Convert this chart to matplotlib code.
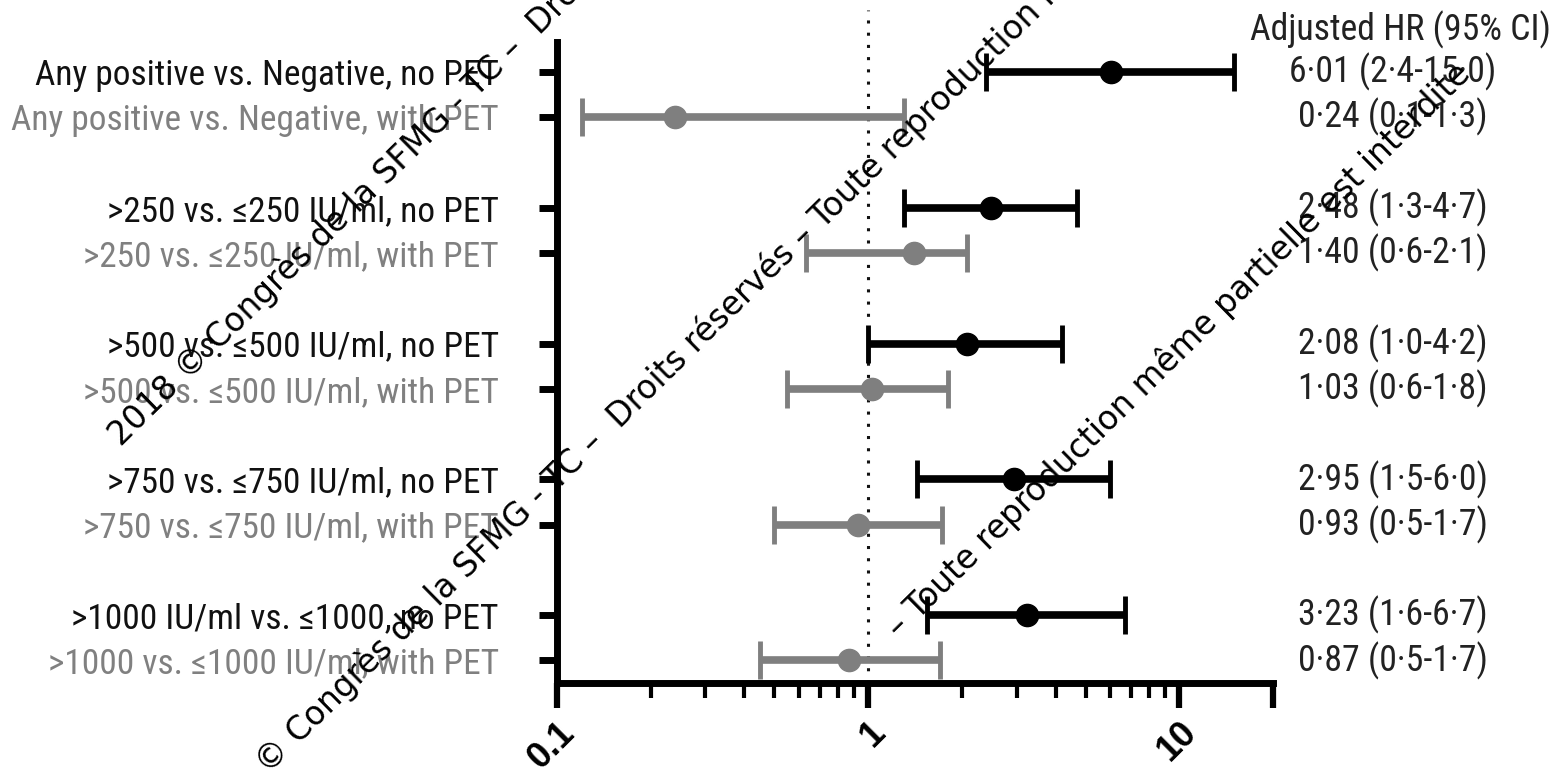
import numpy as np
import matplotlib
matplotlib.use('Agg')
import matplotlib.pyplot as plt
import matplotlib.transforms as mtransforms
from matplotlib import font_manager
from matplotlib.ticker import FixedLocator, NullFormatter

labels = ['Any positive vs. Negative, no PET',
          'Any positive vs. Negative, with PET',
          '>250 vs. \u2264250 IU/ml, no PET',
          '>250 vs. \u2264250 IU/ml, with PET',
          '>500 vs. \u2264500 IU/ml, no PET',
          '>500 vs. \u2264500 IU/ml, with PET',
          '>750 vs. \u2264750 IU/ml, no PET',
          '>750 vs. \u2264750 IU/ml, with PET',
          '>1000 IU/ml vs. \u22641000, no PET',
          '>1000 vs. \u22641000 IU/ml, with PET']
hr = [6.01, 0.24, 2.48, 1.40, 2.08, 1.03, 2.95, 0.93, 3.23, 0.87]
ci_lo = [2.4, 0.12, 1.3, 0.63, 1.0, 0.55, 1.44, 0.50, 1.55, 0.45]
ci_hi = [15.0, 1.3, 4.7, 2.08, 4.2, 1.8, 6.0, 1.73, 6.7, 1.7]
hr_text = ['6\u00b701 (2\u00b74-15\u00b70)', '0\u00b724 (0\u00b71-1\u00b73)',
           '2\u00b748 (1\u00b73-4\u00b77)', '1\u00b740 (0\u00b76-2\u00b71)',
           '2\u00b708 (1\u00b70-4\u00b72)', '1\u00b703 (0\u00b76-1\u00b78)',
           '2\u00b795 (1\u00b75-6\u00b70)', '0\u00b793 (0\u00b75-1\u00b77)',
           '3\u00b723 (1\u00b76-6\u00b77)', '0\u00b787 (0\u00b75-1\u00b77)']
header = 'Adjusted HR (95% CI)'
xticks = [0.1, 1, 10, 20]
xticklabels = ['0.1', '1', '10', '']
xminor = [0.2, 0.3, 0.4, 0.5, 0.6, 0.7, 0.8, 0.9, 2, 3, 4, 5, 6, 7, 8, 9]

wm_a = '2018 \u00a9 Congr\u00e8s de la SFMG - TC \u2013  Droits r\u00e9serv\u00e9s \u2013 Toute reproduction m\u00eame partielle est interdite'
wm_b = '\u00a9 Congr\u00e8s de la SFMG - TC \u2013  Droits r\u00e9serv\u00e9s \u2013 Toute reproduction m\u00eame partielle est interdite'
wm_c = '\u2013 Toute reproduction m\u00eame partielle est interdite'

# the original uses a narrow Arial-like face; take one if present
names = {f.name for f in font_manager.fontManager.ttflist}
narrow_family, narrow_stretch = 'Liberation Sans', 'normal'
for fam in ['Liberation Sans Narrow', 'Arial Narrow', 'Roboto Condensed',
            'Open Sans Condensed', 'Noto Sans Condensed']:
    if fam in names:
        narrow_family = fam
        break
else:
    for f in font_manager.fontManager.ttflist:
        if f.name in ('Roboto', 'Noto Sans', 'Open Sans') and f.stretch in ('condensed', 'semi-condensed'):
            narrow_family, narrow_stretch = f.name, f.stretch
            break
label_family = [narrow_family, 'Liberation Sans', 'DejaVu Sans']

black = '#000000'
grey = '#7f7f7f'

fig = plt.figure(figsize=(15.59, 7.79), dpi=100)
renderer = fig.canvas.get_renderer()


def fit_size(text, target_px, base=20):
    t = fig.text(0, 0, text, fontsize=base, family=label_family, fontstretch=narrow_stretch)
    w = t.get_window_extent(renderer=renderer).width
    t.remove()
    return base * target_px / w


label_size = min(fit_size(labels[0], 463), 27)
value_size = min(fit_size(hr_text[0], 207), 27.5)

ax = fig.add_axes([557 / 1559, 1 - 683 / 779, (1273 - 557) / 1559, (683 - 10) / 779])
ax.set_xscale('log')
ax.set_xlim(0.1, 20)
ax.set_ylim(13.5, -1.37)

# two rows per group, one blank row between groups
ypos = [i + i // 2 for i in range(len(hr))]

ax.axvline(1, color='#111111', lw=2.2, ls=(0, (1, 3)), zorder=1)

for i in range(len(hr)):
    c = black if i % 2 == 0 else grey
    ax.errorbar(hr[i], ypos[i], xerr=[[hr[i] - ci_lo[i]], [ci_hi[i] - hr[i]]],
                fmt='o', color=c, ms=16, elinewidth=5.5, capsize=13.5, capthick=3.5,
                zorder=3, clip_on=False)

for s in ['top', 'right']:
    ax.spines[s].set_visible(False)
ax.spines['left'].set_linewidth(5)
ax.spines['left'].set_bounds(13.5, -0.66)
ax.spines['bottom'].set_linewidth(5)

ax.xaxis.set_major_locator(FixedLocator(xticks))
ax.set_xticklabels(xticklabels)
ax.xaxis.set_minor_locator(FixedLocator(xminor))
ax.xaxis.set_minor_formatter(NullFormatter())
ax.tick_params(axis='x', which='major', length=18, width=4.5, pad=5, labelsize=26)
ax.tick_params(axis='x', which='minor', length=11, width=3)
for lbl in ax.get_xticklabels():
    lbl.set_rotation(45)
    lbl.set_ha('right')
    lbl.set_rotation_mode('anchor')
    lbl.set_fontweight('bold')
    lbl.set_family(['Liberation Sans', 'DejaVu Sans'])

ax.set_yticks(ypos)
ax.set_yticklabels(labels)
ax.tick_params(axis='y', length=13, width=5, pad=29)
for i, lbl in enumerate(ax.get_yticklabels()):
    lbl.set_family(label_family)
    lbl.set_fontstretch(narrow_stretch)
    lbl.set_fontsize(label_size)
    lbl.set_color('#111111' if i % 2 == 0 else '#808080')

trans = mtransforms.blended_transform_factory(fig.transFigure, ax.transData)
ax.text(0.898, -0.93, header, transform=trans, ha='center', va='center',
        fontsize=value_size, family=label_family, fontstretch=narrow_stretch, color='#222222')
for i in range(len(hr)):
    ax.text(0.8935, ypos[i], hr_text[i], transform=trans, ha='center', va='center',
            fontsize=value_size, family=label_family, fontstretch=narrow_stretch,
            color='#222222')

# watermark
for (x, y, s) in [(0.0776, 0.4262, wm_a), (0.1719, 0.0051, wm_b), (0.5766, 0.1797, wm_c)]:
    fig.text(x, y, s, rotation=44.5, rotation_mode='anchor', ha='left', va='baseline',
             fontsize=23.6, family='DejaVu Sans', color='black', zorder=10)

fig.savefig('out.png', dpi=100)
